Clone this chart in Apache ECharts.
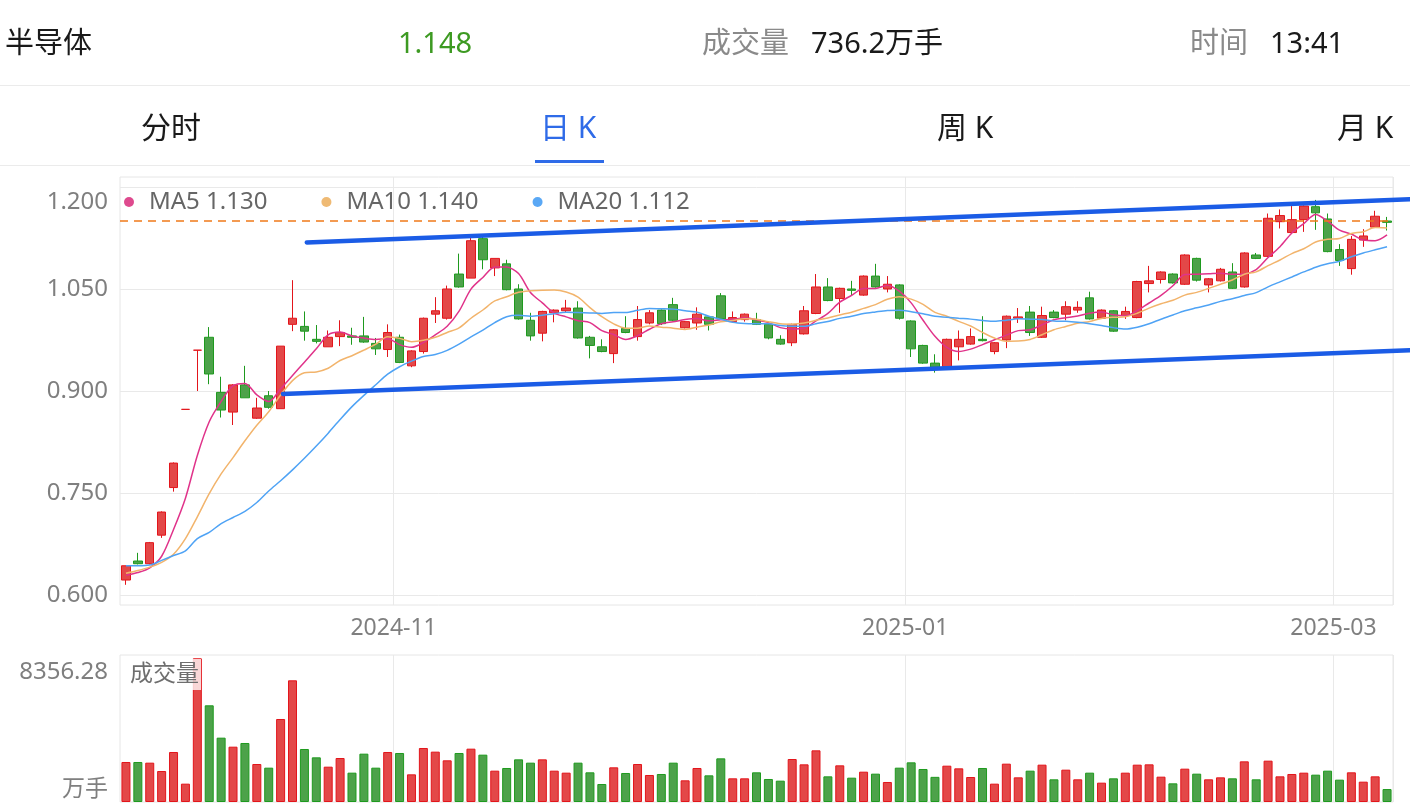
<!DOCTYPE html>
<html>
<head>
<meta charset="utf-8">
<script src="https://cdn.jsdelivr.net/npm/echarts@6/dist/echarts.min.js"></script>
<style>
html,body{margin:0;padding:0;background:#fff;}
#chart{width:1410px;height:806px;}
</style>
</head>
<body>
<div id="chart"></div>
<script>
const categories = [
'2024-09-24','2024-09-25','2024-09-26','2024-09-27','2024-09-30',
'2024-10-08','2024-10-09','2024-10-10','2024-10-11','2024-10-14','2024-10-15','2024-10-16','2024-10-17','2024-10-18',
'2024-10-21','2024-10-22','2024-10-23','2024-10-24','2024-10-25','2024-10-28','2024-10-29','2024-10-30','2024-10-31',
'2024-11-01','2024-11-04','2024-11-05','2024-11-06','2024-11-07','2024-11-08','2024-11-11','2024-11-12','2024-11-13',
'2024-11-14','2024-11-15','2024-11-18','2024-11-19','2024-11-20','2024-11-21','2024-11-22','2024-11-25','2024-11-26',
'2024-11-27','2024-11-28','2024-11-29',
'2024-12-02','2024-12-03','2024-12-04','2024-12-05','2024-12-06','2024-12-09','2024-12-10','2024-12-11','2024-12-12',
'2024-12-13','2024-12-16','2024-12-17','2024-12-18','2024-12-19','2024-12-20','2024-12-23','2024-12-24','2024-12-25',
'2024-12-26','2024-12-27','2024-12-30','2024-12-31',
'2025-01-02','2025-01-03','2025-01-06','2025-01-07','2025-01-08','2025-01-09','2025-01-10','2025-01-13','2025-01-14',
'2025-01-15','2025-01-16','2025-01-17','2025-01-20','2025-01-21','2025-01-22','2025-01-23','2025-01-24','2025-01-27',
'2025-02-05','2025-02-06','2025-02-07','2025-02-10','2025-02-11','2025-02-12','2025-02-13','2025-02-14','2025-02-17',
'2025-02-18','2025-02-19','2025-02-20','2025-02-21','2025-02-24','2025-02-25','2025-02-26','2025-02-27','2025-02-28',
'2025-03-03','2025-03-04','2025-03-05','2025-03-06','2025-03-07'
];
const xTickDates = ['2024-11-01','2025-01-02','2025-03-03'];

const opens = [
0.622,0.650,0.646,0.688,0.758,0.873,0.960,0.979,0.898,0.869,
0.909,0.860,0.893,0.874,0.998,0.995,0.976,0.965,0.980,0.981,
0.981,0.970,0.961,0.979,0.937,0.958,1.013,1.007,1.072,1.066,
1.124,1.081,1.087,1.050,1.004,0.985,1.015,1.018,1.022,0.979,
0.965,0.955,0.992,0.980,1.000,1.019,1.027,0.993,1.000,1.009,
1.040,1.002,1.005,1.005,0.998,0.976,0.971,0.984,1.014,1.053,
1.036,1.050,1.041,1.069,1.050,1.056,1.003,0.967,0.941,0.936,
0.965,0.969,0.976,0.958,0.975,1.007,1.016,0.979,1.016,1.013,
1.019,1.037,1.007,1.018,1.011,1.008,1.058,1.064,1.072,1.057,
1.095,1.056,1.062,1.075,1.053,1.100,1.098,1.149,1.133,1.152,
1.171,1.153,1.108,1.080,1.122,1.141,1.150
];
const closes = [
0.643,0.646,0.677,0.722,0.794,0.873,0.960,0.925,0.872,0.909,
0.890,0.875,0.876,0.966,1.007,0.988,0.973,0.979,0.986,0.979,
0.972,0.962,0.986,0.942,0.959,1.007,1.018,1.050,1.053,1.121,
1.093,1.095,1.049,1.006,0.981,1.017,1.019,1.022,0.978,0.967,
0.958,0.990,0.986,1.005,1.015,0.999,1.004,1.002,1.013,0.998,
1.006,1.008,1.013,0.998,0.978,0.969,0.998,1.018,1.053,1.033,
1.051,1.048,1.069,1.053,1.057,1.007,0.962,0.941,0.935,0.976,
0.976,0.980,0.974,0.971,1.010,1.009,0.986,1.011,1.008,1.024,
1.023,1.006,1.019,0.988,1.017,1.061,1.062,1.075,1.059,1.100,
1.063,1.065,1.079,1.051,1.103,1.095,1.154,1.158,1.152,1.172,
1.162,1.105,1.092,1.123,1.128,1.157,1.148
];
const lows = [
0.615,0.645,0.645,0.684,0.752,0.873,0.900,0.910,0.861,0.850,
0.890,0.859,0.874,0.874,0.988,0.974,0.970,0.965,0.966,0.968,
0.971,0.953,0.950,0.941,0.935,0.955,1.000,1.005,1.052,1.066,
1.079,1.069,1.048,1.005,0.974,0.973,1.001,1.016,0.977,0.948,
0.957,0.941,0.985,0.974,0.998,0.997,1.003,0.992,0.990,0.989,
1.005,1.000,1.002,0.997,0.976,0.968,0.966,0.983,1.013,1.032,
1.015,1.040,1.040,1.052,1.045,1.005,0.950,0.940,0.927,0.935,
0.945,0.968,0.973,0.954,0.963,1.000,0.981,0.978,1.007,1.004,
1.015,1.005,1.006,0.987,1.006,1.007,1.045,1.058,1.058,1.056,
1.061,1.045,1.061,1.050,1.052,1.094,1.097,1.139,1.132,1.134,
1.137,1.104,1.084,1.071,1.112,1.140,1.136
];
const highs = [
0.643,0.662,0.678,0.723,0.795,0.873,0.960,0.994,0.921,0.910,
0.937,0.890,0.900,0.966,1.063,1.017,0.997,0.989,1.004,0.993,
1.009,0.978,0.998,0.983,0.960,1.008,1.038,1.055,1.102,1.125,
1.127,1.095,1.093,1.057,1.015,1.018,1.020,1.034,1.032,0.981,
0.976,0.991,1.010,1.025,1.019,1.020,1.037,1.003,1.023,1.010,
1.044,1.017,1.014,1.015,0.999,0.982,0.999,1.025,1.072,1.066,
1.052,1.062,1.070,1.087,1.069,1.057,1.004,0.968,0.954,0.977,
0.989,0.992,1.010,0.972,1.011,1.022,1.025,1.024,1.019,1.032,
1.032,1.046,1.020,1.019,1.024,1.062,1.084,1.076,1.073,1.101,
1.096,1.066,1.081,1.088,1.104,1.103,1.161,1.167,1.172,1.173,
1.181,1.161,1.116,1.128,1.138,1.165,1.156
];
const volumes = [
2274,2274,2236,1762,2843,1042,8169,5496,3657,3145,
3354,2160,1952,4719,6917,3013,2539,2008,2501,1668,
2748,1952,2843,2786,1573,3070,2862,2369,2786,3032,
2691,1781,1933,2425,2236,2425,1781,1668,2236,1687,
1023,1971,1649,2160,1535,1592,2236,1232,1933,1516,
2482,1346,1346,1687,1308,1213,2444,2141,2937,1459,
2084,1383,1724,1611,1137,1952,2255,1876,1430,2065,
1914,1421,1933,1042,2179,1402,1781,2122,1289,1838,
1289,1668,1099,1346,1668,2122,2141,1440,1061,1895,
1611,1289,1402,1346,2312,1289,2350,1459,1592,1668,
1554,1781,1270,1687,1156,1459,736.2
];
const ma5Lead = [0.629,0.633,0.640,0.657];
const ma10Lead = [0.632,0.636,0.641,0.648,0.660,0.683,0.715,0.749,0.778];
const ma20Lead = [0.643,0.643,0.644,0.651,0.658,0.665,0.683,0.692,0.705,0.714,0.723,0.736,0.753,0.768,0.784,0.801,0.819,0.838,0.858];

const lastPrice = 1.148;
const volMax = 8356.28;
const priceTicks = [0.6,0.75,0.9,1.05,1.2];
// trend lines: [start candle index, start price, end candle index, end price]
const trendLines = [[15.2,1.1184,107.9,1.1819],[13.2,0.8956,107.9,0.9599]];

const header = {name:'半导体', price:'1.148', volLabel:'成交量', vol:'736.2万手', timeLabel:'时间', time:'13:41'};
const tabs = ['分时','日 K','周 K','月 K'];

function movingAvg(win, lead){
  return closes.map((c,i)=>{
    if(i < win-1) return lead[i];
    let s=0; for(let k=i-win+1;k<=i;k++) s+=closes[k];
    return Math.round(s/win*10000)/10000;
  });
}
const ma5 = movingAvg(5, ma5Lead);
const ma10 = movingAvg(10, ma10Lead);
const ma20 = movingAvg(20, ma20Lead);

const UP_FILL='#E34848', UP_LINE='#E3151B', DN_FILL='#4DA24A', DN_LINE='#1E9A1E';
const FONT = '"Noto Sans","Noto Sans CJK SC",sans-serif';

const kData = categories.map((d,i)=>[opens[i],closes[i],lows[i],highs[i]]);
const volData = volumes.map((v,i)=>{
  const up = closes[i] >= opens[i];
  return {value:v, itemStyle:{color: up?UP_FILL:DN_FILL, borderColor: up?UP_LINE:DN_LINE, borderWidth:1}};
});
const tickInterval = (idx, val) => xTickDates.indexOf(val) >= 0;
const last = arr => (Math.round(arr[arr.length-1]*1000)/1000).toFixed(3);
const legendVals = {MA5:last(ma5), MA10:last(ma10), MA20:last(ma20)};

const chart = echarts.init(document.getElementById('chart'), null, {renderer:'canvas'});
const gridColor = '#E9E9E9';
const axisTextColor = '#7F7F7F';

const option = {
  animation:false,
  backgroundColor:'#fff',
  textStyle:{fontFamily:FONT},
  legend:{
    left:119, top:185, icon:'circle', itemWidth:10, itemHeight:10, itemGap:54,
    data:['MA5','MA10','MA20'],
    formatter: n => n + ' ' + legendVals[n],
    textStyle:{color:'#666', fontSize:24, fontFamily:FONT, padding:[0,0,0,10]},
    selectedMode:false
  },
  grid:[
    {left:120, right:17, top:177, height:428, show:true, borderColor:'#E6E6E6', borderWidth:1},
    {left:120, right:17, top:655, bottom:4, show:true, borderColor:'#E6E6E6', borderWidth:1}
  ],
  xAxis:[
    {type:'category', data:categories, gridIndex:0, boundaryGap:true,
     axisLine:{show:false}, axisTick:{show:false, interval:tickInterval},
     axisLabel:{interval:tickInterval, color:axisTextColor, fontSize:23, fontFamily:FONT, margin:12,
       formatter: v => '{a|' + v.slice(0,7) + '}',
       rich:{a:{color:axisTextColor, fontSize:23, fontFamily:FONT, padding:[0,12,0,0]}}},
     splitLine:{show:true, interval:tickInterval, lineStyle:{color:gridColor, width:1}}},
    {type:'category', data:categories, gridIndex:1, boundaryGap:true,
     axisLine:{show:false}, axisTick:{show:false, interval:tickInterval}, axisLabel:{show:false, interval:tickInterval},
     splitLine:{show:true, interval:tickInterval, lineStyle:{color:gridColor, width:1}}},
    {type:'value', gridIndex:0, show:false, min:-0.5, max:categories.length-0.5}
  ],
  yAxis:[
    {type:'value', gridIndex:0, min:0.5853, max:1.2147, scale:true,
     axisLine:{show:false}, axisTick:{show:false, customValues:priceTicks},
     axisLabel:{customValues:priceTicks, color:axisTextColor, fontSize:24, fontFamily:FONT, margin:12,
       formatter: v => Math.abs(v-1.2)<1e-6 ? '{t|'+v.toFixed(3)+'}' : '{n|'+v.toFixed(3)+'}',
       rich:{t:{color:axisTextColor,fontSize:24,fontFamily:FONT,padding:[30,0,0,0]},
             n:{color:axisTextColor,fontSize:24,fontFamily:FONT}}},
     splitLine:{show:true, lineStyle:{color:gridColor, width:1}}},
    {type:'value', gridIndex:1, min:0, max:volMax,
     axisLine:{show:false}, axisTick:{show:false, customValues:[0, volMax]},
     axisLabel:{customValues:[0, volMax], color:axisTextColor, fontSize:24, fontFamily:FONT, margin:12,
       formatter: v => v===0 ? '{b|万手}' : '{t|'+volMax.toFixed(2)+'}',
       rich:{t:{color:axisTextColor,fontSize:24,fontFamily:FONT,padding:[34,0,0,0]},
             b:{color:axisTextColor,fontSize:23,fontFamily:FONT,padding:[0,0,26,0]}}},
     splitLine:{show:false}}
  ],
  series:[
    {name:'K', type:'candlestick', xAxisIndex:0, yAxisIndex:0, data:kData, barWidth:9,
     itemStyle:{color:UP_FILL, color0:DN_FILL, borderColor:UP_LINE, borderColor0:DN_LINE, borderWidth:1},
     markLine:{symbol:'none', silent:true, label:{show:false},
       lineStyle:{color:'#F07A1A', type:[8,6], width:1.6},
       data:[{yAxis:lastPrice}]}},
    {name:'MA5', type:'line', xAxisIndex:0, yAxisIndex:0, data:ma5, smooth:0.3, showSymbol:false,
     lineStyle:{color:'#E0338A', width:1.5}, itemStyle:{color:'#DE4A8E'}},
    {name:'MA10', type:'line', xAxisIndex:0, yAxisIndex:0, data:ma10, smooth:0.3, showSymbol:false,
     lineStyle:{color:'#F2B46C', width:1.5}, itemStyle:{color:'#EFBA74'}},
    {name:'MA20', type:'line', xAxisIndex:0, yAxisIndex:0, data:ma20, smooth:0.3, showSymbol:false,
     lineStyle:{color:'#4FA3F5', width:1.5}, itemStyle:{color:'#5AA8F5'}},
    {name:'trend', type:'custom', xAxisIndex:2, yAxisIndex:0, data:trendLines, clip:false, silent:true, z:5,
     renderItem:(params, api)=>{
       const p0 = api.coord([api.value(0), api.value(1)]);
       const p1 = api.coord([api.value(2), api.value(3)]);
       return {type:'line', shape:{x1:p0[0], y1:p0[1], x2:p1[0], y2:p1[1]},
               style:{stroke:'#1B5CE6', lineWidth:4.5, lineCap:'round'}};
     }},
    {name:'成交量', type:'bar', xAxisIndex:1, yAxisIndex:1, data:volData, barWidth:9}
  ],
  graphic:[
    {type:'text', left:5, top:30, style:{text:header.name, font:'29px '+FONT, fill:'#1A1A1A'}},
    {type:'text', left:398, top:30, style:{text:header.price, font:'29px '+FONT, fill:'#3D9A22'}},
    {type:'text', left:702, top:30, style:{text:header.volLabel, font:'29px '+FONT, fill:'#8A8A8A'}},
    {type:'text', left:811, top:30, style:{text:header.vol, font:'29px '+FONT, fill:'#1A1A1A'}},
    {type:'text', left:1190, top:30, style:{text:header.timeLabel, font:'29px '+FONT, fill:'#8A8A8A'}},
    {type:'text', left:1270, top:30, style:{text:header.time, font:'29px '+FONT, fill:'#1A1A1A'}},
    {type:'rect', left:0, top:85, shape:{width:1410, height:1}, style:{fill:'#EBEBEB'}},
    {type:'text', left:141, top:114, style:{text:tabs[0], font:'30px '+FONT, fill:'#1A1A1A'}},
    {type:'text', left:540, top:114, style:{text:tabs[1], font:'30px '+FONT, fill:'#2F6BE8'}},
    {type:'text', left:937, top:114, style:{text:tabs[2], font:'30px '+FONT, fill:'#1A1A1A'}},
    {type:'text', left:1337, top:114, style:{text:tabs[3], font:'30px '+FONT, fill:'#1A1A1A'}},
    {type:'rect', left:535, top:160, shape:{width:69, height:3}, style:{fill:'#2F6BE8'}},
    {type:'rect', left:0, top:165, shape:{width:1410, height:1}, style:{fill:'#EBEBEB'}},
    {type:'text', left:128, top:659, z:100,
     style:{text:'成交量', font:'23px '+FONT, fill:'#6E6E6E', backgroundColor:'rgba(255,255,255,0.78)', padding:[4,2,4,2]}}
  ]
};
chart.setOption(option);
</script>
</body>
</html>
